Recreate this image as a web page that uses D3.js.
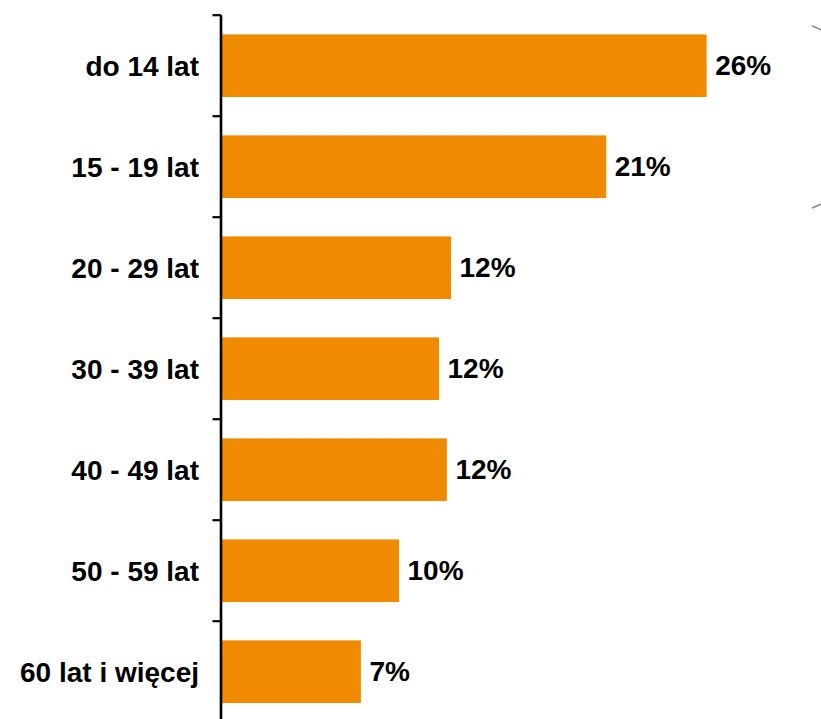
<!DOCTYPE html>
<html>
<head>
<meta charset="utf-8">
<script src="https://cdn.jsdelivr.net/npm/d3@7"></script>
<style>
  html, body { margin: 0; padding: 0; background: #fff; }
  svg { display: block; }
</style>
</head>
<body>
<svg id="chart" width="821" height="719"></svg>
<script>
// Age groups and their shares (%)
const categories = ["do 14 lat", "15 - 19 lat", "20 - 29 lat", "30 - 39 lat", "40 - 49 lat", "50 - 59 lat", "60 lat i więcej"];
const values = [25.97, 20.6, 12.3, 11.66, 12.08, 9.52, 7.48];

const svg = d3.select("#chart");
const font = "'Liberation Sans', Arial, sans-serif";
const barColor = "#F08A00";

const x0 = 221;
const x = d3.scaleLinear().domain([0, 30]).range([x0, x0 + 30 * 18.7]);
const y = d3.scaleBand()
  .domain(categories)
  .range([15.2, 15.2 + 7 * 101])
  .paddingInner(0.38)
  .paddingOuter(0.19);

const data = categories.map((c, i) => ({ cat: c, val: values[i] }));

// Bars
svg.append("g").selectAll("rect")
  .data(data)
  .join("rect")
  .attr("x", x(0) + 1)
  .attr("y", d => y(d.cat))
  .attr("width", d => x(d.val) - x(0) - 1)
  .attr("height", y.bandwidth())
  .attr("fill", barColor);

// Value labels
const fmt = d3.format(".0f");
svg.append("g").selectAll("text")
  .data(data)
  .join("text")
  .attr("x", d => x(d.val) + 8.5)
  .attr("y", d => y(d.cat) + y.bandwidth() / 2)
  .attr("dy", "0.34em")
  .attr("font-family", font)
  .attr("font-weight", "bold")
  .attr("font-size", 28)
  .attr("fill", "#000")
  .text(d => fmt(d.val) + "%");

// Category labels
svg.append("g").selectAll("text")
  .data(data)
  .join("text")
  .attr("x", 199)
  .attr("y", d => y(d.cat) + y.bandwidth() / 2)
  .attr("dy", "0.38em")
  .attr("text-anchor", "end")
  .attr("font-family", font)
  .attr("font-weight", "bold")
  .attr("font-size", 28)
  .attr("fill", "#000")
  .text(d => d.cat);

// Category axis with ticks at band boundaries
const [r0, r1] = y.range();
const axis = svg.append("g");
axis.append("line")
  .attr("x1", x0).attr("x2", x0)
  .attr("y1", r0).attr("y2", r1)
  .attr("stroke", "#000").attr("stroke-width", 2.6);
const bounds = d3.range(categories.length + 1).map(i => r0 + i * y.step());
axis.selectAll("line.tick")
  .data(bounds)
  .join("line")
  .attr("class", "tick")
  .attr("x1", x0 - 8.5).attr("x2", x0)
  .attr("y1", d => d).attr("y2", d => d)
  .attr("stroke", "#000").attr("stroke-width", 2.2);

// Rounded frame edge at the right margin
svg.append("path")
  .attr("d", "M 812 26 A 97 97 0 0 1 812 208")
  .attr("fill", "none")
  .attr("stroke", "#888")
  .attr("stroke-width", 1.6);
</script>
</body>
</html>
